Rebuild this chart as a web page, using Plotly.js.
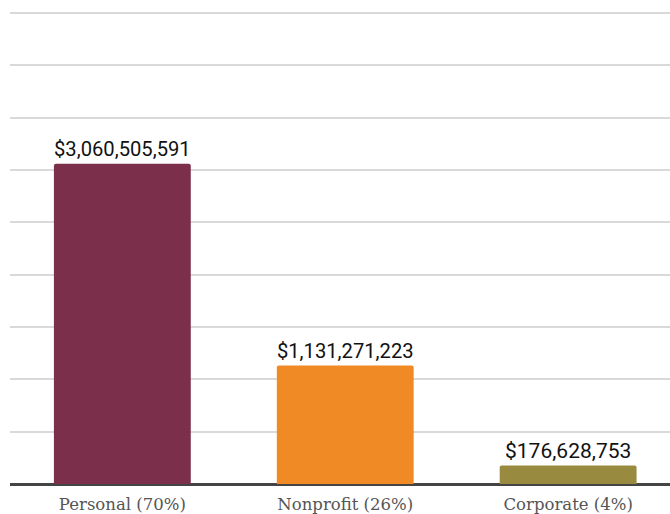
<!DOCTYPE html>
<html>
<head>
<meta charset="utf-8">
<script src="https://cdn.plot.ly/plotly-3.0.1.min.js"></script>
<style>
  html, body { margin: 0; padding: 0; background: #fff; }
  #chart { width: 670px; height: 514px; }
</style>
</head>
<body>
<div id="chart"></div>
<script>
const categories = ["Personal (70%)", "Nonprofit (26%)", "Corporate (4%)"];
const amounts = [3060505591, 1131271223, 176628753];
const valueLabels = ["$3,060,505,591", "$1,131,271,223", "$176,628,753"];
const barColours = ["#7b2f4a", "#f08a25", "#988a3e"];

const trace = {
    type: "bar",
    x: [0, 1, 2],
    y: amounts,
    width: 0.614,
    text: valueLabels,
    textposition: "outside",
    cliponaxis: false,
    textfont: { family: "Roboto, sans-serif", size: 21, color: "#111" },
    marker: { color: barColours, line: { width: 0 } },
    hoverinfo: "skip"
};

const layout = {
    width: 670,
    height: 514,
    margin: { l: 10, r: 0, t: 11, b: 30 },
    paper_bgcolor: "#fff",
    plot_bgcolor: "#fff",
    showlegend: false,
    barcornerradius: 2,
    xaxis: {
        range: [-0.504, 2.457],
        tickvals: [0, 1, 2],
        ticktext: categories,
        ticks: "",
        showgrid: false,
        zeroline: false,
        showline: false,
        ticklabelstandoff: 8,
        tickfont: { family: "DejaVu Serif, serif", size: 16.5, color: "#555" }
    },
    yaxis: {
        range: [0, 4.52e9],
        dtick: 5e8,
        showticklabels: false,
        gridcolor: "#d9d9d9",
        gridwidth: 2,
        zeroline: true,
        zerolinecolor: "#444",
        zerolinewidth: 3,
        showline: false
    }
};

Plotly.newPlot("chart", [trace], layout, { staticPlot: true });
</script>
</body>
</html>
